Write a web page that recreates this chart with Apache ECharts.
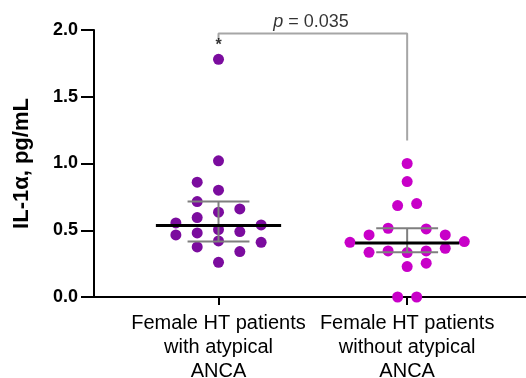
<!DOCTYPE html>
<html>
<head>
<meta charset="utf-8">
<script src="https://cdn.jsdelivr.net/npm/echarts@6/dist/echarts.min.js"></script>
<style>
html,body{margin:0;padding:0;background:#fff;}
#chart{width:526px;height:378px;}
</style>
</head>
<body>
<div id="chart"></div>
<script>
// ---- data ----
const categories = ['Female HT patients\nwith atypical\nANCA', 'Female HT patients\nwithout atypical\nANCA'];
const yTicks = [0, 0.5, 1.0, 1.5, 2.0];
const yTitle = 'IL-1\u03b1, pg/mL';

const withValues  = [1.78, 1.02, 0.86, 0.80, 0.715, 0.66, 0.635, 0.595, 0.555, 0.54, 0.505, 0.48, 0.49, 0.465, 0.42, 0.41, 0.375, 0.34, 0.26];
const withColumns = [0, 0, -1, 0, -1, 1, 0, -1, -2, 2, 0, -1, 1, -2, 0, 2, -1, 1, 0];

const withoutValues  = [1.00, 0.865, 0.685, 0.70, 0.515, 0.51, 0.465, 0.465, 0.41, 0.415, 0.335, 0.345, 0.333, 0.345, 0.365, 0.228, 0.253, 0.0, 0.0];
const withoutColumns = [0, 0, -0.5, 0.5, -1, 1, -2, 2, -3, 3, -2, -1, 0, 1, 2, 0, 1, -0.5, 0.5];

const medians = [0.535, 0.405];
const q1 = [0.415, 0.335];
const q3 = [0.715, 0.515];

const pText = '0.035';
const starText = '*';

// ---- layout / style ----
const colors = ['#7B0C9E', '#C800C8'];
const colStep = [0.113, 0.101];
const medHalf = [0.332, 0.276];
const capHalf = 0.164;

function pts(values, cols, g) {
  return values.map((v, i) => [g + 1 + cols[i] * colStep[g], v]);
}

const chart = echarts.init(document.getElementById('chart'));
const FONT = 'Liberation Sans, Arial, sans-serif';

chart.setOption({
  animation: false,
  grid: { left: 94, right: 0, top: 30, bottom: 81, containLabel: false, outerBoundsMode: 'none' },
  xAxis: {
    type: 'value', min: 0.34, max: 2.63,
    splitLine: { show: false },
    axisLine: { lineStyle: { color: '#000', width: 2 } },
    axisTick: { show: true, customValues: [1, 2], length: 8, lineStyle: { color: '#000', width: 2 } },
    axisLabel: {
      customValues: [1, 2],
      formatter: v => categories[Math.round(v) - 1] || '',
      fontFamily: FONT, fontSize: 20, lineHeight: 24, color: '#000', margin: 14
    }
  },
  yAxis: {
    type: 'value', min: yTicks[0], max: yTicks[yTicks.length - 1], interval: 0.5,
    name: yTitle, nameLocation: 'middle', nameGap: 61,
    nameTextStyle: { fontFamily: FONT, fontSize: 22, fontWeight: 'bold', color: '#000' },
    splitLine: { show: false },
    axisLine: { show: true, lineStyle: { color: '#000', width: 2 } },
    axisTick: { show: true, length: 13, lineStyle: { color: '#000', width: 2 } },
    axisLabel: { formatter: v => v.toFixed(1), fontFamily: FONT, fontSize: 18, fontWeight: 'bold', color: '#000', margin: 16 }
  },
  series: [
    {
      type: 'scatter', data: pts(withValues, withColumns, 0), symbolSize: 11,
      itemStyle: { color: colors[0], opacity: 1 }, z: 3
    },
    {
      type: 'scatter', data: pts(withoutValues, withoutColumns, 1), symbolSize: 11,
      itemStyle: { color: colors[1], opacity: 1 }, z: 3, clip: false
    },
    {
      type: 'custom', z: 5,
      data: medians.map((m, i) => [i + 1, m, q1[i], q3[i], i]),
      renderItem: function (params, api) {
        const x = api.value(0), m = api.value(1), lo = api.value(2), hi = api.value(3), g = api.value(4);
        const c = (a, b) => api.coord([a, b]);
        const L = (p1, p2, st) => ({ type: 'line', shape: { x1: p1[0], y1: p1[1], x2: p2[0], y2: p2[1] }, style: st });
        const grey = { stroke: '#7f7f7f', lineWidth: 2 };
        return {
          type: 'group', children: [
            L(c(x, lo), c(x, hi), grey),
            L(c(x - capHalf, lo), c(x + capHalf, lo), grey),
            L(c(x - capHalf, hi), c(x + capHalf, hi), grey),
            L(c(x - medHalf[g], m), c(x + medHalf[g], m), { stroke: '#000', lineWidth: 3 })
          ]
        };
      }
    },
    {
      type: 'line', symbol: 'none', z: 2,
      data: [[1, 1.928], [1, 1.973], [2, 1.973], [2, 1.172]],
      lineStyle: { color: '#a6a6a6', width: 2 }
    },
    {
      type: 'scatter', symbolSize: 0, clip: false,
      data: [[1.49, 2.063]],
      label: {
        show: true, position: 'inside',
        formatter: '{i|p} = ' + pText,
        fontFamily: FONT, fontSize: 18, color: '#000',
        rich: { i: { fontStyle: 'italic', fontFamily: FONT, fontSize: 18, color: '#000' } }
      }
    },
    {
      type: 'scatter', symbolSize: 0, clip: false,
      data: [[1, Math.max(...withValues)]],
      label: { show: true, position: 'top', distance: 6, formatter: starText, fontFamily: FONT, fontSize: 16, fontWeight: 'bold', color: '#000' }
    }
  ]
});
</script>
</body>
</html>
